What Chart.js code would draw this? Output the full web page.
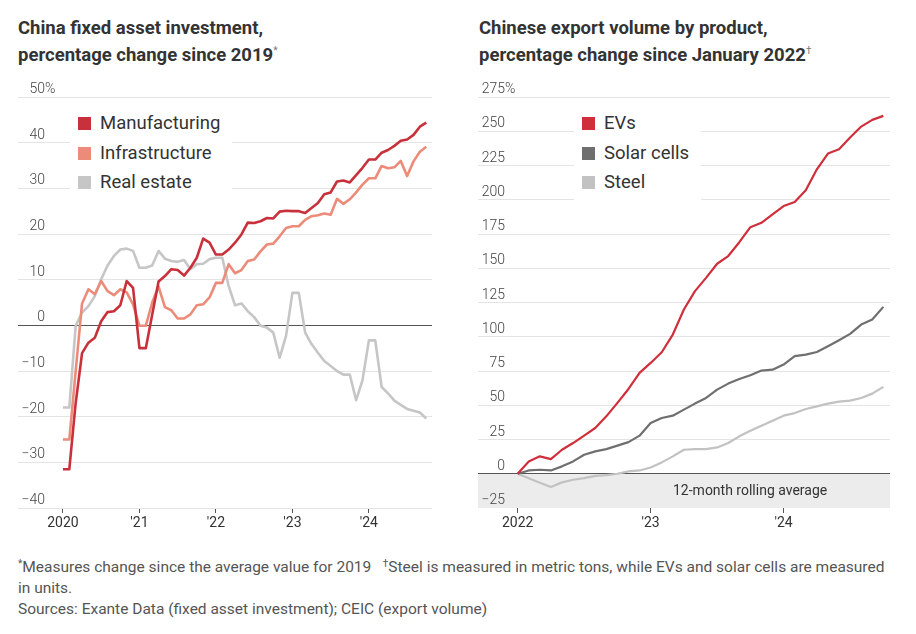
<!DOCTYPE html>
<html>
<head>
<meta charset="utf-8">
<script src="https://cdn.jsdelivr.net/npm/chart.js@4.4.1/dist/chart.umd.min.js"></script>
<style>
  body { margin: 0; background: #fff; font-family: Roboto, "Noto Sans", sans-serif; color: #333; }
  #wrap { position: relative; width: 916px; height: 634px; overflow: hidden; }
  .panel { position: absolute; top: 0; width: 458px; height: 540px; }
  .title { position: absolute; top: 18px; font-weight: 700; font-size: 18.5px; line-height: 21.5px; color: #333; white-space: nowrap; }
  .title sup { font-weight: 400; font-size: 10px; color: #777; vertical-align: 7px; }
  .legend { position: absolute; background: #fff; font-size: 18.5px; line-height: 29.5px; color: #333; padding: 3px 12px 6px 8px; white-space: nowrap; z-index: 2; }
  .legend i { display: inline-block; width: 13px; height: 13px; margin-right: 9px; vertical-align: -1px; }
  .bandnote { position: absolute; font-size: 14px; color: #333; white-space: nowrap; z-index: 2; }
  .note { position: absolute; left: 18px; top: 553px; font-size: 15.5px; line-height: 21px; color: #555; white-space: nowrap; }
  .note sup { font-size: 10px; vertical-align: 5px; }
</style>
</head>
<body>
<div id="wrap">
  <div class="title" style="left:18px">China fixed asset investment,<br>percentage change since 2019<sup>*</sup></div>
  <div class="title" style="left:479px">Chinese export volume by product,<br>percentage change since January 2022<sup>†</sup></div>

  <div class="panel" style="left:0"><canvas id="fai" width="458" height="540"></canvas></div>
  <div class="panel" style="left:458px"><canvas id="exp" width="458" height="540"></canvas></div>

  <div class="legend" id="faiLegend" style="left:70px; top:106px"></div>
  <div class="legend" id="expLegend" style="left:574px; top:106px"></div>
  <div class="bandnote" style="left:673px; top:482px">12-month rolling average</div>

  <div class="note"><sup>*</sup>Measures change since the average value for 2019&nbsp;&nbsp;&nbsp;<sup>†</sup>Steel is measured in metric tons, while EVs and solar cells are measured<br>in units.<br>Sources: Exante Data (fixed asset investment); CEIC (export volume)</div>
</div>

<script>
// China fixed asset investment, % change since 2019 average, monthly Jan 2020 - Oct 2024
const manufacturing = [-31.5, -31.5, -17, -6.1, -3.8, -2.7, 0.9, 2.9, 3.1, 4.4,
  9.7, 8.2, -5, -5, 2.3, 9.6, 10.8, 12.3, 12.1, 10.9,
  12.6, 14.8, 19, 18.1, 15.5, 15.5, 16.6, 18.1, 19.9, 22.5,
  22.4, 22.8, 23.5, 23.4, 24.9, 25.1, 25, 25, 24.6, 25.7,
  26.8, 28.7, 29.1, 31.5, 31.7, 31.3, 32.9, 34.5, 36.3, 36.3,
  37.8, 38.4, 39.3, 40.4, 40.7, 41.7, 43.5, 44.4];
const infrastructure = [-25, -25, -10, 4.8, 7.9, 6.8, 9.7, 7.5, 6.6, 7.9,
  7.2, 4.6, -0.1, -0.1, 5, 8.5, 4, 3.3, 1.5, 1.5,
  2.4, 4.4, 4.6, 6.1, 9.3, 9.3, 13.4, 11.4, 12.1, 14.1,
  14.4, 16.2, 17.7, 17.9, 19.5, 21.3, 21.7, 21.7, 23.1, 23.9,
  24.1, 24.5, 24.2, 27.7, 26.6, 27.6, 29.1, 30.8, 32.2, 32.2,
  34.9, 34.4, 34.6, 36, 32.7, 35.9, 38, 39.1];
const realEstate = [-18, -18, -0.1, 2.8, 4.2, 6.4, 10.1, 13.1, 15.2, 16.6,
  16.8, 16.3, 12.6, 12.6, 13.1, 16.3, 14.6, 14.1, 13.9, 14.3,
  12.3, 13.4, 13.5, 14.5, 14.8, 14.8, 8.6, 4.4, 4.8, 3.1,
  1.8, -0.1, -0.5, -1.6, -7.1, -2.3, 7.1, 7.1, -1.6, -4.1,
  -6, -7.8, -8.9, -10, -10.8, -10.8, -16.4, -12, -3.3, -3.3,
  -13.5, -14.9, -16.5, -17.4, -18.3, -18.7, -19.1, -20.4];
const faiTickMonths = [0, 12, 24, 36, 48];
const faiTickLabels = ['2020', "'21", "'22", "'23", "'24"];

// Chinese export volume, % change since Jan 2022, monthly Jan 2022 - Oct 2024
const evs = [0, 9, 12.7, 10.7, 17.5, 22.4, 27.8, 33.4, 41.9, 51.7,
  61.9, 73.6, 80.9, 88.7, 101.6, 119.9, 133.3, 143, 153.3, 158.9,
  169, 180, 183.2, 189.3, 195.4, 198.3, 207, 222.2, 233.7, 236.8,
  245.4, 253.4, 258.3, 261.2];
const solarCells = [0, 2.4, 2.9, 2.4, 5.4, 9, 13.9, 16.3, 18, 20.5,
  23.1, 27.8, 37, 40.7, 42.4, 46.8, 51.2, 55.3, 61.4, 65.8,
  69.2, 71.9, 75.3, 76, 79.7, 85.8, 87, 88.9, 93.1, 97.5,
  102.1, 108.9, 112.6, 121.8];
const steel = [0, -3.3, -6.5, -9.7, -6.3, -4.4, -3.2, -1.5, -1, 0,
  1.7, 2.4, 4.6, 8.3, 12.7, 17.5, 18, 18, 19.2, 22.4,
  27.3, 31.4, 35.1, 38.7, 42.4, 44.3, 47.3, 49.2, 51.2, 52.6,
  53.4, 55.3, 58.5, 63.4];
const expTickMonths = [0, 12, 24];
const expTickLabels = ['2022', "'23", "'24"];

const faiSeries = [
  { label: 'Manufacturing', data: manufacturing, color: '#c8313b' },
  { label: 'Infrastructure', data: infrastructure, color: '#ec8b79' },
  { label: 'Real estate', data: realEstate, color: '#c6c6c6' }
];
const expSeries = [
  { label: 'EVs', data: evs, color: '#cf2f3b' },
  { label: 'Solar cells', data: solarCells, color: '#6f6f6f' },
  { label: 'Steel', data: steel, color: '#c2c2c2' }
];

// y labels drawn right-aligned just above each gridline, "%" hanging off the top one
const yLabels = {
  id: 'yLabels',
  afterDatasetsDraw(chart, args, opts) {
    const y = chart.scales.y, ctx = chart.ctx;
    ctx.save();
    ctx.font = '300 14px Roboto, sans-serif';
    ctx.fillStyle = '#444';
    ctx.textBaseline = 'alphabetic';
    y.ticks.forEach((t, i) => {
      const py = y.getPixelForValue(t.value) - 4;
      const s = t.value < 0 ? '\u2212' + Math.abs(t.value) : String(t.value);
      ctx.textAlign = 'right';
      ctx.fillText(s, opts.right, py);
      if (i === y.ticks.length - 1) {
        ctx.textAlign = 'left';
        ctx.fillText('%', opts.right, py);
      }
    });
    ctx.restore();
  }
};

// gray band under zero on the export chart
const band = {
  id: 'band',
  beforeDraw(chart, args, opts) {
    if (!opts.color) return;
    const y = chart.scales.y, a = chart.chartArea, ctx = chart.ctx;
    const top = y.getPixelForValue(opts.from), bottom = y.getPixelForValue(opts.to);
    ctx.save();
    ctx.fillStyle = opts.color;
    ctx.fillRect(a.left, top, a.right - a.left, bottom - top);
    ctx.restore();
  }
};

function makeChart(id, series, yMin, yMax, yStep, xMin, xMax, tickMonths, tickLabels, pad, labelRight, bandOpts, lineWidth) {
  return new Chart(document.getElementById(id), {
    type: 'line',
    data: {
      datasets: series.map(s => ({
        label: s.label,
        data: s.data.map((v, i) => ({ x: i, y: v })),
        borderColor: s.color,
        borderWidth: lineWidth,
        pointRadius: 0,
        tension: 0,
        borderJoinStyle: 'round'
      }))
    },
    options: {
      responsive: false,
      animation: false,
      devicePixelRatio: 1,
      layout: { padding: pad },
      plugins: {
        legend: { display: false },
        tooltip: { enabled: false },
        yLabels: { right: labelRight },
        band: bandOpts
      },
      scales: {
        x: {
          type: 'linear',
          min: xMin,
          max: xMax,
          afterBuildTicks: s => { s.ticks = tickMonths.map(v => ({ value: v })); },
          afterFit: s => { s.height = 32; },
          border: { display: false },
          grid: { drawOnChartArea: false, drawTicks: true, tickLength: 5, color: '#555', lineWidth: 1 },
          ticks: {
            padding: 2,
            color: '#333',
            font: { family: 'Roboto', size: 14 },
            maxRotation: 0,
            callback: v => tickLabels[tickMonths.indexOf(v)]
          }
        },
        y: {
          min: yMin,
          max: yMax,
          afterFit: s => { s.width = 0; },
          border: { display: false },
          ticks: { display: false, stepSize: yStep },
          grid: {
            drawTicks: false,
            color: c => c.tick.value === 0 ? '#555' : (bandOpts.color && c.tick.value === yMin ? 'rgba(0,0,0,0)' : '#e4e4e4'),
            lineWidth: 1
          }
        }
      }
    },
    plugins: [band, yLabels]
  });
}

makeChart('fai', faiSeries, -40, 50, 10, -7.05, 57.9, faiTickMonths, faiTickLabels,
  { left: 18, right: 26, top: 97, bottom: 0 }, 45, {}, 2.6);
makeChart('exp', expSeries, -25, 275, 25, -3.58, 33.6, expTickMonths, expTickLabels,
  { left: 20, right: 26, top: 97, bottom: 0 }, 47, { from: 0, to: -25, color: '#ececec' }, 2.2);

function fillLegend(id, series) {
  document.getElementById(id).innerHTML = series
    .map(s => `<div><i style="background:${s.color}"></i>${s.label}</div>`).join('');
}
fillLegend('faiLegend', faiSeries);
fillLegend('expLegend', expSeries);
</script>
</body>
</html>
